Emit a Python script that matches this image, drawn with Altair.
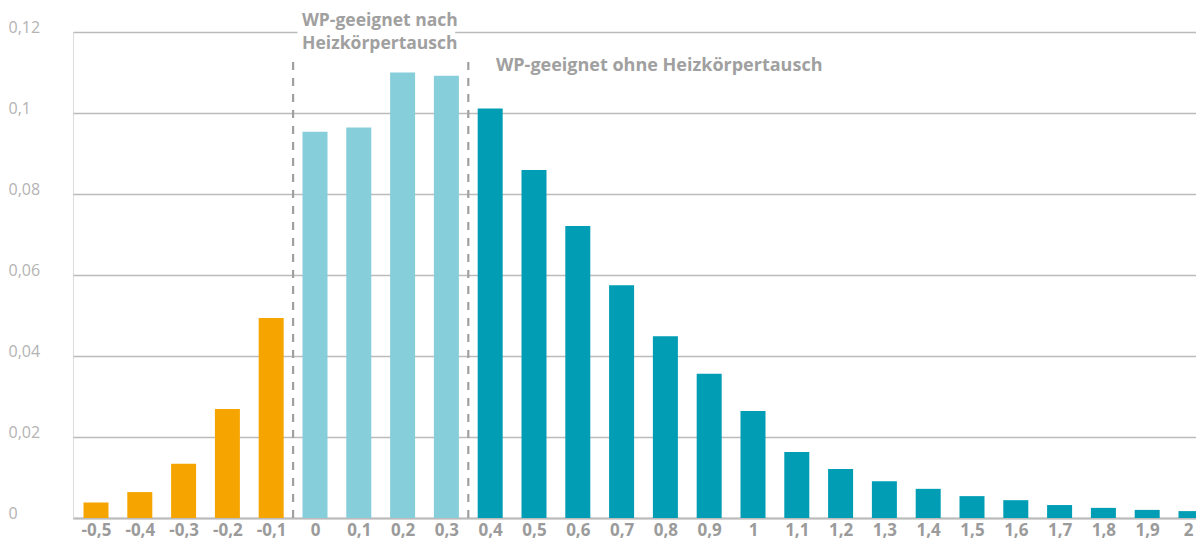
import altair as alt
import pandas as pd

# ---- data ----
x_values = [-0.5, -0.4, -0.3, -0.2, -0.1, 0.0, 0.1, 0.2, 0.3, 0.4, 0.5, 0.6, 0.7,
            0.8, 0.9, 1.0, 1.1, 1.2, 1.3, 1.4, 1.5, 1.6, 1.7, 1.8, 1.9, 2.0]
shares = [0.0038, 0.0064, 0.0134, 0.0269, 0.0494, 0.0954, 0.0964, 0.1100, 0.1092,
          0.1011, 0.0859, 0.0721, 0.0575, 0.0449, 0.0356, 0.0264, 0.0163, 0.0121,
          0.0091, 0.0072, 0.0054, 0.0044, 0.0032, 0.0025, 0.0020, 0.0017]
groups = (["nicht geeignet"] * 5 + ["nach Heizkörpertausch"] * 4
          + ["ohne Heizkörpertausch"] * 17)
group_names = ["nicht geeignet", "nach Heizkörpertausch", "ohne Heizkörpertausch"]
group_colors = ["#F6A500", "#87CEDB", "#009DB4"]

y_ticks = [0, 0.02, 0.04, 0.06, 0.08, 0.1, 0.12]

divider_x = [-0.05, 0.35]
divider_top = 0.1136

ann1_lines = ["WP-geeignet nach", "Heizkörpertausch"]
ann1_x = 0.148
ann1_y = [0.1226, 0.1170]
ann1_mask = {"x": -0.04, "x2": 0.32, "y": 0.1158, "y2": 0.1238}
ann2_text = "WP-geeignet ohne Heizkörpertausch"
ann2_x = 0.413
ann2_y = 0.1116

df = pd.DataFrame({"x": x_values, "share": shares, "group": groups})
div_df = pd.DataFrame({"x": divider_x, "y0": [0, 0], "y1": [divider_top] * 2})
ann1_df = pd.DataFrame({"x": [ann1_x] * 2, "y": ann1_y, "t": ann1_lines})
mask_df = pd.DataFrame([ann1_mask])
ann2_df = pd.DataFrame({"x": [ann2_x], "y": [ann2_y], "t": [ann2_text]})

FONT = "Open Sans"
PLOT_W = 1123
xscale = alt.Scale(domain=[-0.5525, -0.5525 + PLOT_W / 438], nice=False, zero=False,
                   padding=0)
yscale = alt.Scale(domain=[0, 0.12], nice=False, padding=0)

bars = alt.Chart(df).mark_bar(width=25).encode(
    x=alt.X("x:Q", scale=xscale, title=None,
            axis=alt.Axis(values=x_values, grid=False, ticks=False, tickSize=0,
                          domain=True, domainColor="#bbbbbb", domainWidth=2,
                          labelExpr="replace(toString(datum.value), '.', ',')",
                          labelAlign=alt.expr("datum.value == 2 ? 'right' : 'center'"),
                          labelOffset=alt.expr("datum.value == 2 ? 2 : 0"),
                          labelFont=FONT, labelFontWeight="bold", labelFontSize=17,
                          labelColor="#9b9b9b", labelPadding=4, labelFlush=False,
                          labelOverlap=False)),
    y=alt.Y("share:Q", scale=yscale, title=None,
            axis=alt.Axis(values=y_ticks, grid=True, gridColor="#bbbbbb", gridWidth=1.5,
                          domain=False, ticks=False, tickSize=0,
                          labelExpr="replace(toString(datum.value), '.', ',')",
                          labelFont=FONT, labelFontSize=16, labelColor="#b3b3b3",
                          labelAlign="left", labelBaseline="alphabetic",
                          labelPadding=65)),
    color=alt.Color("group:N", scale=alt.Scale(domain=group_names, range=group_colors),
                    legend=None),
)

dividers = alt.Chart(div_df).mark_rule(color="#a0a0a0", strokeWidth=2.2,
                                       strokeDash=[8, 8]).encode(
    x=alt.X("x:Q", scale=xscale),
    y=alt.Y("y0:Q", scale=yscale),
    y2="y1:Q",
)

mask = alt.Chart(mask_df).mark_rect(color="white").encode(
    x=alt.X("x:Q", scale=xscale), x2="x2:Q",
    y=alt.Y("y:Q", scale=yscale), y2="y2:Q",
)

ann1 = alt.Chart(ann1_df).mark_text(font=FONT, fontWeight="bold", fontSize=17.5,
                                    color="#a0a0a0", align="center",
                                    baseline="middle").encode(
    x=alt.X("x:Q", scale=xscale), y=alt.Y("y:Q", scale=yscale), text="t:N")

ann2 = alt.Chart(ann2_df).mark_text(font=FONT, fontWeight="bold", fontSize=18,
                                    color="#a0a0a0", align="left",
                                    baseline="middle").encode(
    x=alt.X("x:Q", scale=xscale), y=alt.Y("y:Q", scale=yscale), text="t:N")

chart = alt.layer(bars, dividers, mask, ann1, ann2).properties(
    width=PLOT_W, height=486,
    autosize=alt.AutoSizeParams(type="none"),
    padding={"left": 65, "top": 24, "right": 0, "bottom": 30},
).configure_view(stroke=None).configure(background="white")

chart.save("out.html", embed_options={"renderer": "svg", "actions": False})
